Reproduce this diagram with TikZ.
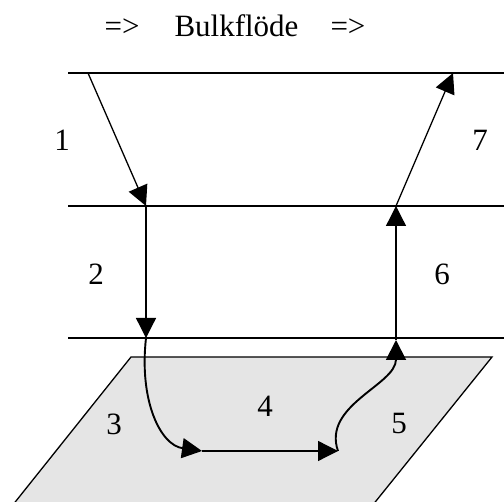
\documentclass[tikz,border=0pt]{standalone}
\usepackage{fontspec}
\setmainfont{Liberation Serif}
\usetikzlibrary{arrows.meta}

\begin{document}
\begin{tikzpicture}[
    x=1pt, y=-1pt,
    every node/.style={font=\fontsize{31}{34}\selectfont, inner sep=0pt},
    layer/.style={line width=1.4pt},
    arrow/.style={-{Triangle[length=20pt,width=20pt]}, line width=1.3pt},
    flow/.style={-{Triangle[length=20pt,width=20pt]}, line width=1.9pt},
    surface/.style={draw, fill=black!10, line width=1.3pt},
]
\useasboundingbox (0,0) rectangle (504,502);
\clip (0,0) rectangle (504,502);

% Surface
\draw[surface] (131,357) -- (492,357) -- (372,506) -- (12,506) -- cycle;

% Layer boundaries
\draw[layer] (68,73) -- (504,73);
\draw[layer] (68,206) -- (504,206);
\draw[layer] (68,338) -- (504,338);

% Points on the path
\coordinate (start) at (88,73);
\coordinate (inA) at (146,206);
\coordinate (inB) at (146,338);
\coordinate (siteA) at (202,451);
\coordinate (siteB) at (338,451);
\coordinate (outB) at (396,340);
\coordinate (outA) at (396,206);
\coordinate (stop) at (453,73);

% Arrows
\draw[arrow] (start) -- (inA);
\draw[arrow] (inA) -- (inB);
\draw[flow] (inB) .. controls (139,400) and (160,445) .. (siteA);
\draw[arrow] (siteA) -- (siteB);
\draw[flow] (siteB) .. controls (322,405) and (396,385) .. (outB);
\draw[arrow] (outB) -- (outA);
\draw[arrow] (outA) -- (stop);

% Labels
\node[anchor=base] (title) at (235,37) {=>\hspace{35pt}Bulkflöde\hspace{32pt}=>};
\node (n1) at (62,140) {1};
\node (n2) at (96,274) {2};
\node (n3) at (114,424) {3};
\node (n4) at (265,406) {4};
\node (n5) at (399,424) {5};
\node (n6) at (442,274) {6};
\node (n7) at (480,140) {7};

\end{tikzpicture}
\end{document}
